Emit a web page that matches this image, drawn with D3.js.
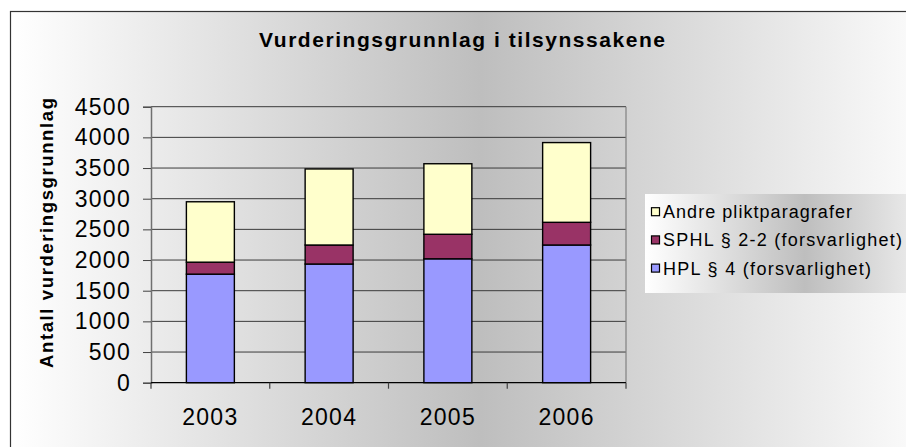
<!DOCTYPE html>
<html><head><meta charset="utf-8">
<script src="https://cdn.jsdelivr.net/npm/d3@7"></script>
<style>
html,body{margin:0;padding:0;background:#fff;}
svg{display:block;font-family:"Liberation Sans",Arial,sans-serif;}
</style></head>
<body>
<svg id="c" width="906" height="447"></svg>
<script>
const years = ["2003","2004","2005","2006"];
const hpl = [1770, 1935, 2020, 2245];
const sphl = [195, 310, 400, 370];
const andre = [985, 1240, 1150, 1300];
const seriesNames = ["HPL § 4 (forsvarlighet)","SPHL § 2-2 (forsvarlighet)","Andre pliktparagrafer"];
const seriesColors = ["#9999FF","#993366","#FFFFCC"];
const yTicks = [0,500,1000,1500,2000,2500,3000,3500,4000,4500];
const title = "Vurderingsgrunnlag i tilsynssakene";
const yTitle = "Antall vurderingsgrunnlag";

const svg = d3.select("#c");
const defs = svg.append("defs");
function grad(id){
  const g = defs.append("linearGradient").attr("id",id).attr("x1","0").attr("x2","1").attr("y1","0").attr("y2","0");
  g.append("stop").attr("offset","0").attr("stop-color","#ffffff");
  g.append("stop").attr("offset","0.5").attr("stop-color","#bebebe");
  g.append("stop").attr("offset","1").attr("stop-color","#ffffff");
}
grad("bg"); grad("lg");

// chart area
svg.append("rect").attr("x",10.5).attr("y",11.5).attr("width",940).attr("height",460)
  .attr("fill","url(#bg)").attr("stroke","#333").attr("stroke-width",1.2);

const pLeft=151, pRight=626, pTop=106.7, pBottom=382.7;
const x = d3.scaleBand().domain(years).range([pLeft,pRight]).padding(0);
const y = d3.scaleLinear().domain([0,4500]).range([pBottom,pTop]);

// gridlines
svg.append("g").selectAll("line").data(yTicks.filter(d=>d>0)).join("line")
  .attr("x1",pLeft).attr("x2",pRight).attr("y1",d=>y(d)).attr("y2",d=>y(d))
  .attr("stroke","#3a3a3a").attr("stroke-width",1);
// plot right border
svg.append("line").attr("x1",pRight).attr("x2",pRight).attr("y1",pTop).attr("y2",pBottom)
  .attr("stroke","#808080").attr("stroke-width",1.2);

// stacked bars
const data = years.map((yr,i)=>({year:yr, v:[hpl[i],sphl[i],andre[i]]}));
const barW = x.bandwidth()*0.404;
const gBars = svg.append("g");
data.forEach(d=>{
  let acc=0;
  d.v.forEach((val,k)=>{
    gBars.append("rect")
      .attr("x", x(d.year)+(x.bandwidth()-barW)/2)
      .attr("y", y(acc+val))
      .attr("width", barW)
      .attr("height", y(acc)-y(acc+val))
      .attr("fill", seriesColors[k])
      .attr("stroke","#000").attr("stroke-width",1.4);
    acc+=val;
  });
});

// y axis
const yAxis = d3.axisLeft(y).tickValues(yTicks).tickSize(8).tickPadding(12).tickFormat(d3.format("d"));
const ga = svg.append("g").attr("transform",`translate(${pLeft},0)`).call(yAxis);
ga.select(".domain").attr("stroke","#707070").attr("stroke-width",1.5);
ga.selectAll(".tick line").attr("stroke","#404040");
ga.selectAll(".tick text").attr("font-size","23px").attr("fill","#000")
  .attr("font-family","'Liberation Sans',Arial,sans-serif").style("letter-spacing","1.3px");

// x axis
const xAxis = d3.axisBottom(x).tickSize(0).tickPadding(0);
const gx = svg.append("g").attr("transform",`translate(0,${pBottom})`).call(xAxis);
gx.select(".domain").remove();
gx.selectAll(".tick text").attr("font-size","23px").attr("fill","#000").attr("y",42).attr("dy",0)
  .attr("font-family","'Liberation Sans',Arial,sans-serif").style("letter-spacing","1.3px");
svg.append("line").attr("x1",pLeft).attr("x2",pRight).attr("y1",pBottom).attr("y2",pBottom)
  .attr("stroke","#000").attr("stroke-width",1.3);
svg.append("g").selectAll("line").data(d3.range(years.length+1)).join("line")
  .attr("x1",i=>pLeft+i*x.step()).attr("x2",i=>pLeft+i*x.step())
  .attr("y1",pBottom).attr("y2",pBottom+6).attr("stroke","#404040").attr("stroke-width",1.2);

// title
svg.append("text").attr("x",462).attr("y",47).attr("text-anchor","middle")
  .attr("font-size","21px").attr("font-weight","bold").attr("textLength",406).attr("lengthAdjust","spacing")
  .text(title);
// y title
svg.append("text").attr("transform","translate(53,233) rotate(-90)").attr("text-anchor","middle")
  .attr("font-size","18.5px").attr("font-weight","bold").attr("textLength",270).attr("lengthAdjust","spacing")
  .text(yTitle);

// legend
svg.append("rect").attr("x",645).attr("y",194).attr("width",320).attr("height",99).attr("fill","url(#lg)");
const legOrder = [2,1,0];
const legW = [189,239,208];
const lg = svg.append("g");
legOrder.forEach((k,i)=>{
  const cy = 211.7 + i*28.2;
  lg.append("rect").attr("x",651.5).attr("y",cy-4).attr("width",8).attr("height",8)
    .attr("fill",seriesColors[k]).attr("stroke","#000").attr("stroke-width",1.2);
  lg.append("text").attr("x",663).attr("y",cy+6.5).attr("font-size","18px")
    .attr("textLength",legW[i]).attr("lengthAdjust","spacing").text(seriesNames[k]);
});
</script>
</body></html>
